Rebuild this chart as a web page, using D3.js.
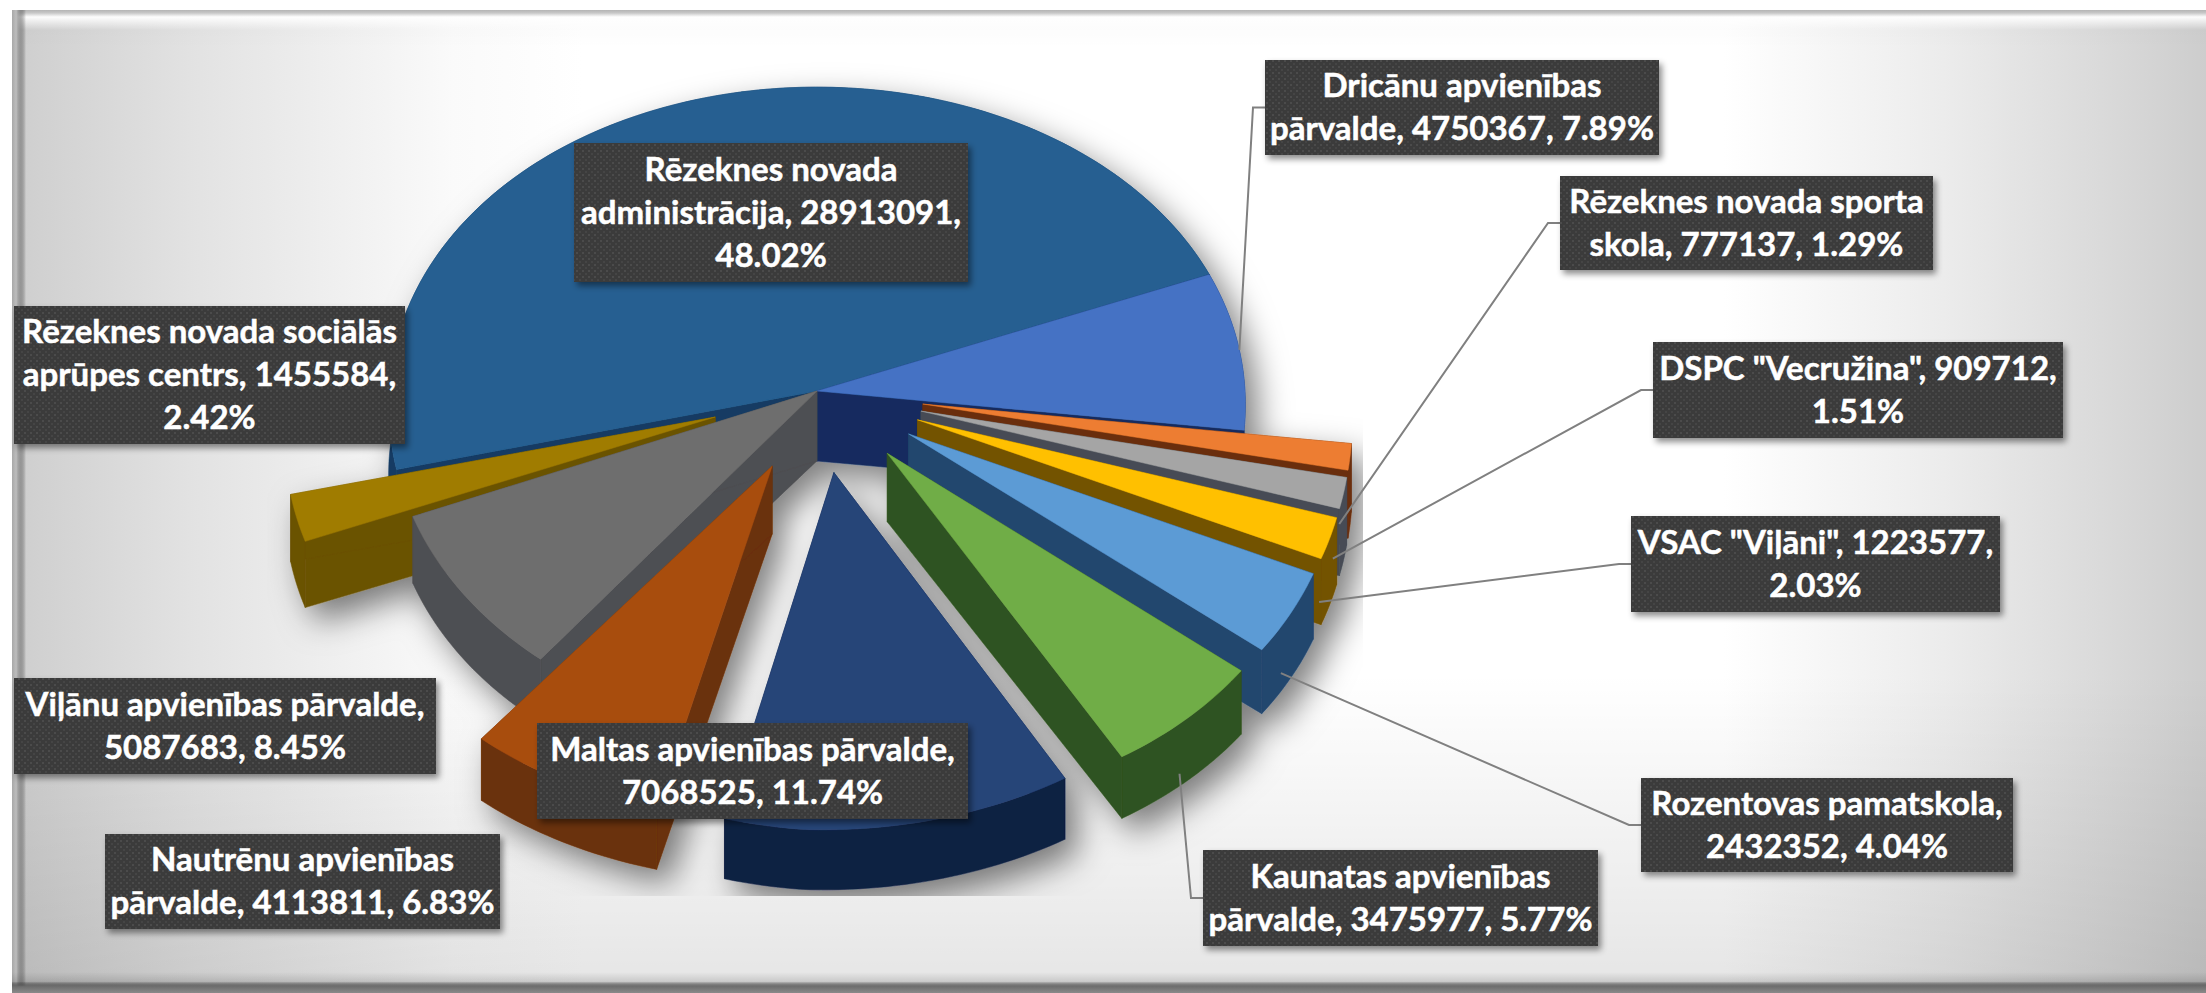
<!DOCTYPE html>
<html>
<head>
<meta charset="utf-8">
<script src="https://cdnjs.cloudflare.com/ajax/libs/d3/7.8.5/d3.min.js"></script>
<style>
  html, body { margin: 0; padding: 0; background: #fff; overflow: hidden; }
  svg { display: block; }
</style>
</head>
<body>
<svg id="chart" width="2206" height="993"></svg>
<script>
// Data, clockwise from the back left edge of the pie
var categories = [
  'Rēzeknes novada administrācija', 'Dricānu apvienības pārvalde', 'Rēzeknes novada sporta skola',
  'DSPC "Vecružina"', 'VSAC "Viļāni"', 'Rozentovas pamatskola', 'Kaunatas apvienības pārvalde',
  'Maltas apvienības pārvalde', 'Nautrēnu apvienības pārvalde', 'Viļānu apvienības pārvalde',
  'Rēzeknes novada sociālās aprūpes centrs'
];
var values = [28913091, 4750367, 777137, 909712, 1223577, 2432352, 3475977, 7068525, 4113811, 5087683, 1455584];
var percents = ['48.02%', '7.89%', '1.29%', '1.51%', '2.03%', '4.04%', '5.77%', '11.74%', '6.83%', '8.45%', '2.42%'];

// the way each label wraps in the original
var labelLines = [
  ['Rēzeknes novada', 'administrācija, 28913091,', '48.02%'],
  ['Dricānu apvienības', 'pārvalde, 4750367, 7.89%'],
  ['Rēzeknes novada sporta', 'skola, 777137, 1.29%'],
  ['DSPC "Vecružina", 909712,', '1.51%'],
  ['VSAC "Viļāni", 1223577,', '2.03%'],
  ['Rozentovas pamatskola,', '2432352, 4.04%'],
  ['Kaunatas apvienības', 'pārvalde, 3475977, 5.77%'],
  ['Maltas apvienības pārvalde,', '7068525, 11.74%'],
  ['Nautrēnu apvienības', 'pārvalde, 4113811, 6.83%'],
  ['Viļānu apvienības pārvalde,', '5087683, 8.45%'],
  ['Rēzeknes novada sociālās', 'aprūpes centrs, 1455584,', '2.42%']
];

// Styles
var topColors = ['#255E91', '#4472C4', '#ED7D31', '#A5A5A5', '#FFC000', '#5B9BD5', '#70AD47', '#264478', '#A84E10', '#6E6E6E', '#A07C00'];
var wallColors = ['#123A63', '#152C5E', '#6B2F0D', '#474C55', '#735200', '#22466E', '#2F5220', '#0E2042', '#6B3009', '#4E4F52', '#6B5200'];
var exploded = [0, 0, 1, 1, 1, 1, 1, 1, 1, 0, 1];

// Layout: box of each label [x, y, w, h] and how far down the wall its leader ends (-1 no leader)
var labelBoxes = [
  [574, 143, 394, 139], [1265, 60, 394, 95], [1560, 176, 373, 94], [1653, 342, 410, 96],
  [1631, 516, 369, 96], [1641, 778, 372, 94], [1203, 850, 395, 96], [537, 723, 431, 96],
  [105, 834, 395, 95], [14, 678, 422, 96], [14, 306, 391, 138]
];
var leaderDrop = [-1, 0, 1, 1, 1, 1, 1, -1, -1, -1, -1];

var width = 2206, height = 993;
var cx = 817, cy = 391, radius = 428, explodeBy = 0.25;

var svg = d3.select('#chart');
var defs = svg.append('defs');

function linearGradient(id, x1, y1, x2, y2, stops) {
  var g = defs.append('linearGradient').attr('id', id)
    .attr('gradientUnits', 'userSpaceOnUse')
    .attr('x1', x1).attr('y1', y1).attr('x2', x2).attr('y2', y2);
  stops.forEach(function(s) {
    g.append('stop').attr('offset', s[0]).attr('stop-color', s[1]).attr('stop-opacity', s[2] === undefined ? 1 : s[2]);
  });
}

linearGradient('bgH', 14, 0, 2206, 0, [[0, '#cecece'], [0.08, '#e2e2e2'], [0.2, '#fafafa'], [0.26, '#ffffff'], [0.78, '#ffffff'], [0.88, '#ececec'], [0.96, '#d8d8d8'], [1, '#cdcdcd']]);
linearGradient('bgV', 0, 10, 0, 985, [[0, '#000', 0.02], [0.04, '#000', 0], [0.68, '#000', 0], [1, '#000', 0.1]]);
linearGradient('edgeLeft', 12, 0, 26, 0, [[0, '#a8a8a8'], [0.3, '#bdbdbd'], [1, '#000', 0]]);
linearGradient('edgeBottom', 0, 972, 0, 993, [[0, '#000', 0], [0.45, '#000', 0.12], [0.7, '#6f6f6f'], [1, '#8a8a8a']]);
linearGradient('edgeTop', 0, 10, 0, 30, [[0, '#b4b4b4'], [0.15, '#c8c8c8'], [0.35, '#fff', 0.95], [1, '#fff', 0]]);

// dotted fill of the labels
var dots = defs.append('pattern').attr('id', 'labelDots').attr('patternUnits', 'userSpaceOnUse')
  .attr('width', 6).attr('height', 6);
dots.append('rect').attr('width', 6).attr('height', 6).attr('fill', '#3a3a3a');
dots.append('rect').attr('x', 0).attr('y', 0).attr('width', 2).attr('height', 2).attr('fill', '#4c4c4c');
dots.append('rect').attr('x', 3).attr('y', 3).attr('width', 2).attr('height', 2).attr('fill', '#454545');

var pieShadow = defs.append('filter').attr('id', 'pieShadow').attr('filterUnits', 'userSpaceOnUse')
  .attr('x', 267).attr('y', 60).attr('width', 1096).attr('height', 836);
pieShadow.append('feDropShadow').attr('dx', 12).attr('dy', 14).attr('stdDeviation', 16)
  .attr('flood-color', '#000').attr('flood-opacity', 0.5);

var boxShadow = defs.append('filter').attr('id', 'boxShadow').attr('x', '-5%').attr('y', '-10%').attr('width', '110%').attr('height', '125%');
boxShadow.append('feDropShadow').attr('dx', 3).attr('dy', 4).attr('stdDeviation', 3)
  .attr('flood-color', '#000').attr('flood-opacity', 0.45);

// Background and bevel
svg.append('rect').attr('x', 12).attr('y', 10).attr('width', width - 12).attr('height', height - 10).attr('fill', 'url(#bgH)');
svg.append('rect').attr('x', 12).attr('y', 10).attr('width', width - 12).attr('height', height - 10).attr('fill', 'url(#bgV)');
svg.append('rect').attr('x', 12).attr('y', 10).attr('width', width - 12).attr('height', 20).attr('fill', 'url(#edgeTop)');
svg.append('rect').attr('x', 12).attr('y', 10).attr('width', 14).attr('height', height - 10).attr('fill', 'url(#edgeLeft)');
svg.append('rect').attr('x', 12).attr('y', 972).attr('width', width - 12).attr('height', 21).attr('fill', 'url(#edgeBottom)');

// Pie angles come from d3.pie, the tilt is applied by project()
var startAngle = -104.4 * Math.PI / 180;
var slices = d3.pie().sort(null).startAngle(startAngle).endAngle(startAngle + 2 * Math.PI)(values);
slices.forEach(function(s, i) {
  s.index = i;
  s.mid = (s.startAngle + s.endAngle) / 2;
  s.offset = exploded[i] * explodeBy;
});

// the original is a skewed perspective view, so the near left side reaches further out
function project(angle, r, s, down) {
  var u = r * Math.sin(angle) + s.offset * Math.sin(s.mid);
  var v = -r * Math.cos(angle) - s.offset * Math.cos(s.mid);
  var near = Math.max(v, 0);
  return [
    cx + radius * (u * (1 + 0.04 * v) + near * near * (0.05 * u - 0.02)),
    cy + radius * (v * (0.76 + 0.05 * v) + 0.035 * Math.min(u, 0) * near) + down * (70 - 8 * v)
  ];
}

function arcAngles(s) {
  var n = Math.max(4, Math.ceil((s.endAngle - s.startAngle) / 0.02));
  return d3.range(n + 1).map(function(k) {
    return s.startAngle + (s.endAngle - s.startAngle) * k / n;
  });
}

var line = d3.line().curve(d3.curveLinear);

var pieG = svg.append('g').attr('filter', 'url(#pieShadow)');

// painted from the back to the front
slices.slice().sort(function(a, b) { return d3.ascending(-Math.cos(a.mid), -Math.cos(b.mid)); })
  .forEach(function(s) {
    var g = pieG.append('g');
    var wall = wallColors[s.index];
    [s.startAngle, s.endAngle].forEach(function(a) {
      g.append('path').attr('fill', wall).attr('stroke', wall).attr('stroke-width', 0.5)
        .attr('d', line([project(a, 0, s, 0), project(a, 1, s, 0), project(a, 1, s, 1), project(a, 0, s, 1)]) + 'Z');
    });
    var angles = arcAngles(s);
    var upper = angles.map(function(a) { return project(a, 1, s, 0); });
    var lower = angles.slice().reverse().map(function(a) { return project(a, 1, s, 1); });
    g.append('path').attr('fill', wall).attr('stroke', wall).attr('stroke-width', 0.5)
      .attr('d', line(upper.concat(lower)) + 'Z');
    g.append('path').attr('fill', topColors[s.index]).attr('stroke', topColors[s.index]).attr('stroke-width', 0.5)
      .attr('d', line([project(s.mid, 0, s, 0)].concat(upper)) + 'Z');
  });

// Leader lines
slices.forEach(function(s, i) {
  if (leaderDrop[i] < 0) return;
  var b = labelBoxes[i];
  var midY = b[1] + b[3] / 2;
  var reach = leaderDrop[i] ? 0.975 : 1;
  svg.append('path').attr('fill', 'none').attr('stroke', '#808080').attr('stroke-width', 2)
    .attr('d', line([[b[0], midY], [b[0] - 12, midY], project(s.mid, reach, s, leaderDrop[i])]));
});

// Labels
var lineHeight = 43;
labelLines.forEach(function(lines, i) {
  var b = labelBoxes[i];
  var g = svg.append('g');
  g.append('rect').attr('x', b[0]).attr('y', b[1]).attr('width', b[2]).attr('height', b[3])
    .attr('fill', 'url(#labelDots)').attr('filter', 'url(#boxShadow)');
  var mid = b[1] + b[3] / 2;
  lines.forEach(function(t, k) {
    g.append('text')
      .attr('x', b[0] + b[2] / 2)
      .attr('y', mid + (k - (lines.length - 1) / 2) * lineHeight + 11)
      .attr('text-anchor', 'middle')
      .style('font-family', 'Lato, "Open Sans", sans-serif')
      .style('font-weight', 'bold')
      .style('font-size', '33px')
      .style('fill', '#ffffff')
      .style('stroke', '#ffffff')
      .style('stroke-width', 0.5)
      .text(t);
  });
});
</script>
</body>
</html>
